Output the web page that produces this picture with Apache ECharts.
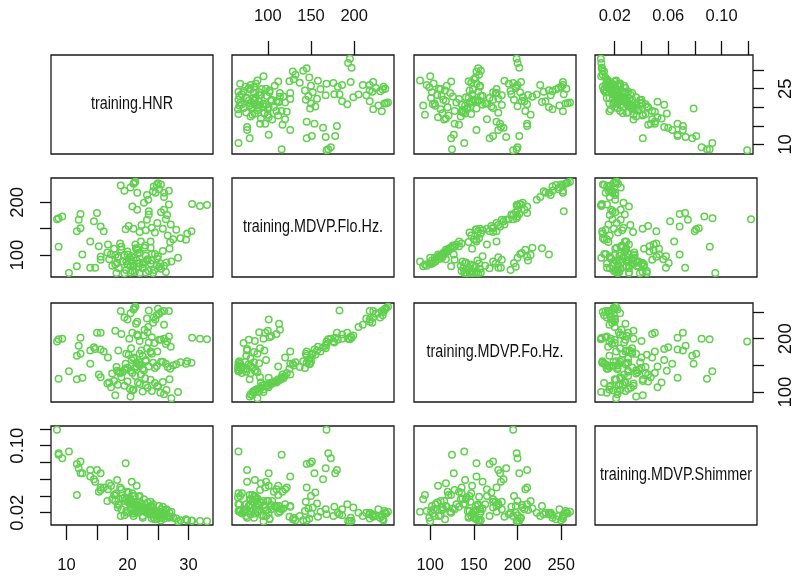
<!DOCTYPE html>
<html><head><meta charset="utf-8">
<script src="https://cdn.jsdelivr.net/npm/echarts@6/dist/echarts.min.js"></script>
<style>html,body{margin:0;padding:0;background:#fff}#c{width:795px;height:580px}</style>
</head><body><div id="c"></div>
<script>
// ---- data (one value per training observation) ----
const hnr = [
8.441,8.7,9.3,8.7,10.4,12.3,12.0,11.7,12.3,13.9,
12.6,11.7,15.0,14.5,15.6,16.1,15.6,15.3,13.9,14.7,
15.6,19.7,24.3,24.8,25.2,25.5,24.6,23.2,26.0,25.0,
26.8,21.3,21.1,21.0,20.5,19.5,21.6,18.9,22.7,23.4,
24.2,26.0,20.8,21.6,23.5,33.047,31.9,30.6,29.8,28.7,
29.6,30.5,27.5,26.6,28.0,25.8,24.5,23.0,27.0,26.0,
26.5,27.1,26.3,23.2,24.9,23.5,24.0,25.5,22.3,26.8,
23.8,22.0,21.0,20.2,27.2,26.0,25.4,24.0,22.5,21.0,
20.4,23.3,25.0,26.4,19.5,18.4,22.0,24.5,21.7,20.0,
17.8,16.7,23.8,25.8,22.9,19.0,21.3,26.9,24.9,20.8,
23.0,17.3,22.2,18.8,28.3,20.5,21.2,22.0,19.8,23.5,
18.6,21.8,24.2,20.0,22.7,19.2,25.5,21.5,17.5,23.0,
20.8,18.2,22.5,24.8,26.3,19.5,21.9,21.0,22.5,19.8,
23.8,20.6,18.5,24.4,22.0,20.3,25.2,21.7,19.0,23.3,
18.0,22.8,24.0,21.4,20.0,18.0,20.5,17.0,18.3,20.7,
21.5,16.8];
const flo = [
168,170,173,116,66,151,167,145,178,126,
101,79,180,164,154,145,97,117,76,76,
91,149,230,233,225,234,218,214,218,236,
222,239.17,237,235,228,222,218,232,199,205,
221,210,192,186,183,195,193,197,141,132,
129,145,130,137,148,150,143,147,125,186,
176,158,168,167,161,177,152,181,157,196,
126,144,150,155,88,80,84,90,83,95,
88,92,98,86,100,96,104,102,110,107,
112,105,114,108,118,116,120,112,93,85,
99,101,126,122,95,67,68,66,72,70,
75,78,66,82,86,88,74,90,80,67,
70,66,76,80,68,65.476,84,80,75,88,
84,91,96,72,85,95,78,104,110,90,
100,114,102,113,101,82,79,92,85,98,
112,120];
const fo = [
195,199,200,125,139,172,187,168,202,153,
127,124,211,184,180,176,211,133,178,181,
128,153,240,244,247,250,236,238,252,256,
252,260.105,257.5,255,248,240,232,252,206,222,
230,226,211,208,253,199,200,202,158,156,
153,155,150,147,152,157,145,160,144,200,
195,185,190,182,176,193,172,198,178,204,
176,172,165,170,88.333,96,99,102,101,105,
106,108,110,104,112,114,115,117,118,120,
121,116,123,119,126,128,130,124,112,103,
113,109,133,136,100,140,145,150,143,148,
138,152,155,146,141,137,157,154,135,158,
136,147,144,149,153,142,156,163,168,172,
175,182,178,192,196,200,198,205,209,212,
215,217,203,228,236,94,92,118,140,160,
148,165];
const shimmer = [
0.11908,0.091,0.085,0.089,0.093,0.081,0.073,0.078,0.067,0.063,
0.067,0.041,0.071,0.060,0.067,0.050,0.050,0.045,0.071,0.057,
0.047,0.079,0.014,0.012,0.016,0.011,0.018,0.020,0.013,0.020,
0.015,0.021,0.019,0.022,0.024,0.017,0.020,0.016,0.026,0.020,
0.018,0.016,0.030,0.024,0.018,0.0096,0.0099,0.0102,0.0108,0.011,
0.012,0.0105,0.014,0.016,0.013,0.019,0.022,0.025,0.015,0.017,
0.016,0.015,0.018,0.024,0.021,0.027,0.026,0.020,0.031,0.014,
0.028,0.033,0.040,0.044,0.021,0.022,0.014,0.028,0.022,0.016,
0.030,0.032,0.016,0.024,0.034,0.026,0.024,0.012,0.028,0.045,
0.041,0.034,0.021,0.027,0.025,0.024,0.030,0.020,0.017,0.019,
0.023,0.052,0.027,0.050,0.0098,0.030,0.040,0.022,0.022,0.019,
0.030,0.028,0.030,0.033,0.036,0.037,0.024,0.029,0.036,0.021,
0.043,0.043,0.014,0.018,0.023,0.038,0.039,0.030,0.016,0.036,
0.033,0.033,0.029,0.020,0.040,0.034,0.028,0.029,0.048,0.023,
0.034,0.025,0.013,0.028,0.020,0.041,0.036,0.055,0.059,0.057,
0.052,0.048];

const varNames = ['training.HNR','training.MDVP.Flo.Hz.','training.MDVP.Fo.Hz.','training.MDVP.Shimmer'];

// tick marks and the labels R kept on the outer axes
const hnrTicks = [10,15,20,25,30];
const hnrLabelsBottom = [10,20,30];
const hnrLabelsRight = [10,25];
const floTicks = [100,150,200];
const floLabelsTop = [100,150,200];
const floLabelsLeft = [100,200];
const foTicks = [100,150,200,250];
const foLabelsBottom = [100,150,200,250];
const foLabelsRight = [100,200];
const shTicks = [0.02,0.04,0.06,0.08,0.10,0.12];
const shLabelsTop = [0.02,0.06,0.10];
const shLabelsLeft = [0.02,0.10];

// ---- chart construction ----
const vars = [hnr, flo, fo, shimmer];
const ticks = [hnrTicks, floTicks, foTicks, shTicks];
const fmt = [v=>String(v), v=>String(v), v=>String(v), v=>v.toFixed(2)];
function ext(a){const mn=Math.min(...a), mx=Math.max(...a), r=mx-mn; return [mn-0.04*r, mx+0.04*r];}
const ranges = vars.map(ext);

const colLeft = [51, 232, 414, 595];
const rowTop = [55, 178, 303, 426];
const W = 162, H = 99;
const GREEN = '#61D04F';
const FONT = "'Liberation Sans',Arial,sans-serif";
const INK = '#111';

const grid=[], xAxis=[], yAxis=[], series=[], graphic=[];
function hiddenAxis(){return {axisLine:{show:false}, axisTick:{show:false}, axisLabel:{show:false}, splitLine:{show:false}};}

for (let i=0;i<4;i++){
  for (let j=0;j<4;j++){
    const g = i*4+j;
    grid.push({left:colLeft[j], top:rowTop[i], width:W, height:H, show:true,
      borderColor:'#1a1a1a', borderWidth:1.3, backgroundColor:'transparent', containLabel:false});
    const xa = Object.assign({gridIndex:g, type:'value', min:ranges[j][0], max:ranges[j][1]}, hiddenAxis());
    const ya = Object.assign({gridIndex:g, type:'value', min:ranges[i][0], max:ranges[i][1]}, hiddenAxis());
    if (i===0 && (j===1 || j===3)){
      xa.position='top';
      xa.axisTick={show:true, customValues:ticks[j], length:14, lineStyle:{color:INK, width:1.3}};
      xa.axisLabel={show:true, customValues: j===1?floLabelsTop:shLabelsTop, margin:30, fontSize:16.5,
        fontFamily:FONT, color:INK, formatter:fmt[j]};
    }
    if (i===3 && (j===0 || j===2)){
      xa.position='bottom';
      xa.axisTick={show:true, customValues:ticks[j], length:15, lineStyle:{color:INK, width:1.3}};
      xa.axisLabel={show:true, customValues: j===0?hnrLabelsBottom:foLabelsBottom, margin:32, fontSize:16.5,
        fontFamily:FONT, color:INK, formatter:fmt[j]};
    }
    if (j===0 && (i===1 || i===3)){
      ya.position='left';
      ya.axisTick={show:true, customValues:ticks[i], length:11, lineStyle:{color:INK, width:1.3}};
      ya.axisLabel={show:true, customValues: i===1?floLabelsLeft:shLabelsLeft, margin:24, rotate:90, fontSize:18.5,
        fontFamily:FONT, color:INK, formatter:fmt[i]};
    }
    if (j===3 && (i===0 || i===2)){
      ya.position='right';
      ya.axisTick={show:true, customValues:ticks[i], length:11, lineStyle:{color:INK, width:1.3}};
      ya.axisLabel={show:true, customValues: i===0?hnrLabelsRight:foLabelsRight, margin:23, rotate:90, fontSize:18.5,
        fontFamily:FONT, color:INK, formatter:fmt[i]};
    }
    xAxis.push(xa); yAxis.push(ya);
    if (i===j){
      graphic.push({type:'text', x:colLeft[j]+W/2, y:rowTop[i]+H/2, scaleX:0.82, silent:true,
        style:{text:varNames[i], align:'center', verticalAlign:'middle',
          fontSize:17.5, fontFamily:FONT, fill:INK}});
    } else {
      const xs = vars[j], ys = vars[i];
      series.push({type:'scatter', xAxisIndex:g, yAxisIndex:g, silent:true, animation:false,
        symbol:'circle', symbolSize:6.5, clip:true,
        itemStyle:{color:'rgba(0,0,0,0)', borderColor:GREEN, borderWidth:1.5, opacity:1},
        data: xs.map((v,k)=>[v, ys[k]])});
    }
  }
}

const chart = echarts.init(document.getElementById('c'), null, {renderer:'canvas'});
chart.setOption({backgroundColor:'#fff', animation:false, grid, xAxis, yAxis, series, graphic});
</script></body></html>
